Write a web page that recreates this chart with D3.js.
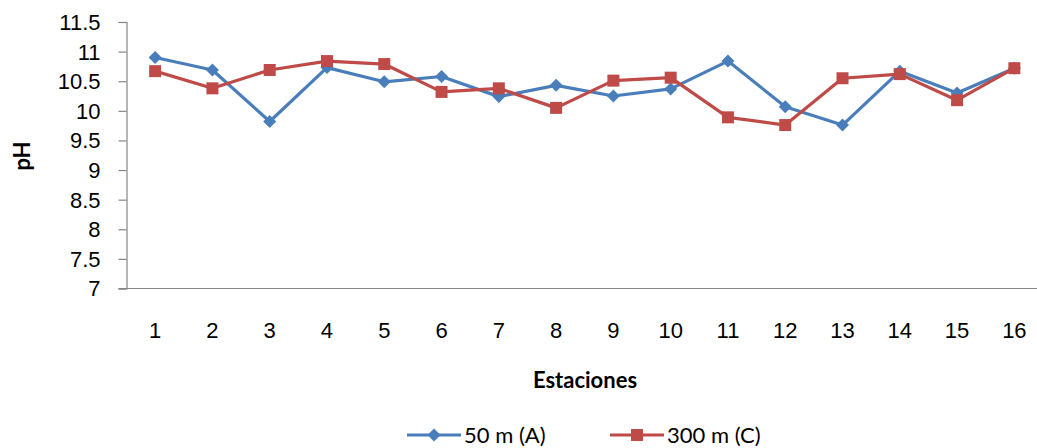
<!DOCTYPE html>
<html><head><meta charset="utf-8">
<script src="https://cdn.jsdelivr.net/npm/d3@7"></script>
<style>body{margin:0;background:#fff;}svg{display:block;font-family:Lato,"Open Sans",sans-serif;}</style>
</head><body><svg id="c" width="1037" height="448"></svg>
<script>
const categories = ["1","2","3","4","5","6","7","8","9","10","11","12","13","14","15","16"];
const seriesA = [10.90,10.69,9.82,10.73,10.49,10.58,10.24,10.43,10.25,10.37,10.84,10.07,9.76,10.67,10.30,10.72];
const seriesC = [10.67,10.38,10.69,10.84,10.79,10.32,10.38,10.05,10.51,10.56,9.89,9.76,10.55,10.62,10.18,10.72];
const yTicks = [7,7.5,8,8.5,9,9.5,10,10.5,11,11.5];
const seriesNames = ["50 m (A)","300 m (C)"];
const colors = ["#4A7EBB","#BE4B48"];

(function(){
const svg = d3.select("#c");
const pLeft = 126.5, pRight = 1043, pTop = 22, pBottom = 288.5;
const FS = 22;
const x = d3.scaleBand().domain(categories).range([pLeft, pRight]);
const y = d3.scaleLinear().domain([7, 11.5]).range([pBottom, pTop]);

// y axis
const yAxis = d3.axisLeft(y).tickValues(yTicks).tickSize(8).tickFormat(d => String(d));
const gy = svg.append("g").attr("transform", `translate(${pLeft},0)`).call(yAxis);
gy.select(".domain").attr("stroke", "#868686").attr("stroke-width", 1.2);
gy.selectAll(".tick line").attr("stroke", "#868686").attr("stroke-width", 1.2);
gy.selectAll(".tick text").attr("font-size", FS).attr("fill", "#000").attr("x", -26).attr("dy", "0.34em");

// x axis
const xAxis = d3.axisBottom(x).tickSize(0).tickPadding(35);
const gx = svg.append("g").attr("transform", `translate(0,${pBottom})`).call(xAxis);
gx.select(".domain").attr("stroke", "#868686").attr("stroke-width", 1.2).attr("d", `M${pLeft-8},0H${pRight}`);
gx.selectAll(".tick text").attr("font-size", FS).attr("fill", "#000").attr("dy", "0.68em");

// axis titles
svg.append("text").attr("x", 585).attr("y", 388).attr("text-anchor", "middle")
  .attr("font-size", FS).attr("font-weight", "bold").text("Estaciones");
svg.append("text").attr("transform", "translate(30,156) rotate(-90)").attr("text-anchor", "middle")
  .attr("font-size", FS).attr("font-weight", "bold").text("pH");

const cx = d => x(d) + x.bandwidth() / 2;
const line = d3.line().x((d, i) => cx(categories[i])).y(d => y(d));

const diamondPath = "M0,-6.5L6.5,0L0,6.5L-6.5,0Z";
const squarePath = "M-6,-6H6V6H-6Z";

[seriesA, seriesC].forEach((s, k) => {
  svg.append("path").datum(s).attr("d", line).attr("fill", "none")
    .attr("stroke", colors[k]).attr("stroke-width", 3.2).attr("stroke-linejoin", "round");
  svg.append("g").selectAll("path").data(s).join("path")
    .attr("transform", (d, i) => `translate(${cx(categories[i])},${y(d)})`)
    .attr("d", k === 0 ? diamondPath : squarePath).attr("fill", colors[k]);
});

// legend
const legend = [{x0: 407, name: seriesNames[0]}, {x0: 610, name: seriesNames[1]}];
legend.forEach((l, k) => {
  const g = svg.append("g").attr("transform", `translate(${l.x0},435)`);
  g.append("line").attr("x1", 0).attr("x2", 54).attr("stroke", colors[k]).attr("stroke-width", 3.2);
  g.append("path").attr("transform", "translate(27,0)").attr("d", k === 0 ? diamondPath : squarePath).attr("fill", colors[k]);
  g.append("text").attr("x", 57).attr("y", 7.5).attr("font-size", FS).text(l.name);
});
})();
</script></body></html>
